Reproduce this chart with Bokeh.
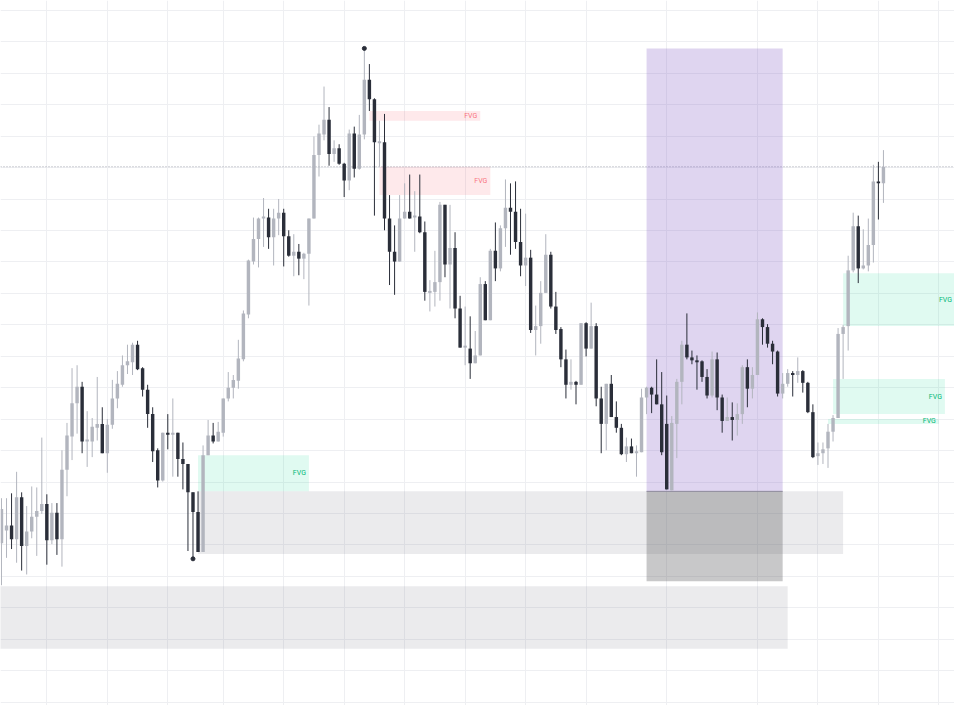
from bokeh.plotting import figure
from bokeh.models import Range1d, FixedTicker, Span, ColumnDataSource
from bokeh.embed import file_html
from bokeh.resources import INLINE
from bokeh.core.properties import value

# ---- candle data (price units) ----
opens = [245, 258, 263, 249, 292, 242, 257, 272, 278, 285, 248, 276, 249, 320, 354, 388, 405, 349, 349, 363,
         367, 337, 366, 393, 407, 427, 430, 448, 424, 402, 377, 340, 309, 358, 356, 358, 331, 326, 297, 277,
         236, 335, 355, 349, 358, 393, 404, 411, 433, 479, 533, 556, 577, 578, 558, 577, 583, 559, 539, 543,
         536, 541, 577, 642, 663, 678, 643, 649, 633, 616, 664, 628, 663, 719, 699, 654, 655, 577, 543, 533,
         577, 584, 578, 579, 563, 501, 502, 512, 591, 530, 547, 485, 445, 444, 429, 437, 510, 473, 544, 526,
         567, 588, 584, 553, 529, 537, 463, 467, 501, 540, 487, 464, 433, 407, 410, 407, 470, 444, 467, 393,
         367, 408, 374, 363, 336, 344, 337, 338, 394, 404, 397, 387, 367, 299, 367, 410, 448, 435, 432, 431,
         415, 396, 433, 394, 370, 374, 371, 377, 425, 403, 417, 474, 466, 449, 441, 398, 408, 419, 417, 421,
         409, 379, 334, 337, 342, 359, 373, 459, 467, 524, 569, 526, 529, 550, 615, 613]
highs = [291, 291, 296, 318, 297, 283, 303, 302, 353, 295, 286, 286, 340, 368, 424, 427, 410, 380, 373, 415,
         384, 372, 412, 421, 437, 448, 450, 452, 425, 407, 384, 342, 358, 377, 393, 358, 348, 326, 297, 298,
         345, 371, 368, 369, 393, 420, 417, 453, 483, 535, 578, 578, 598, 587, 587, 597, 587, 565, 561, 551,
         542, 577, 661, 673, 712, 691, 657, 653, 634, 668, 671, 683, 751, 735, 700, 677, 684, 601, 570, 601,
         613, 622, 605, 622, 574, 514, 544, 594, 591, 591, 563, 498, 487, 477, 462, 517, 513, 546, 573, 570,
         617, 613, 615, 587, 582, 545, 488, 513, 561, 543, 502, 466, 443, 433, 411, 470, 471, 491, 470, 405,
         408, 417, 390, 367, 353, 352, 345, 403, 405, 405, 433, 420, 396, 375, 413, 452, 480, 442, 437, 432,
         423, 441, 440, 397, 394, 389, 388, 427, 433, 425, 481, 475, 469, 452, 442, 419, 423, 421, 435, 422,
         410, 387, 348, 348, 367, 376, 465, 468, 539, 583, 580, 566, 577, 632, 635, 647]
lows = [202, 230, 239, 225, 217, 213, 250, 232, 275, 223, 244, 233, 221, 293, 330, 357, 337, 323, 333, 350,
        337, 317, 362, 383, 405, 418, 417, 422, 395, 363, 328, 302, 308, 341, 313, 313, 300, 237, 229, 236,
        236, 335, 347, 349, 354, 390, 393, 403, 431, 475, 530, 527, 548, 546, 529, 560, 528, 538, 518, 519,
        515, 488, 577, 620, 657, 631, 635, 632, 599, 606, 619, 627, 658, 687, 580, 630, 565, 509, 499, 533,
        577, 577, 543, 562, 493, 482, 487, 493, 517, 485, 475, 445, 427, 413, 429, 437, 473, 473, 513, 523,
        548, 540, 546, 518, 508, 460, 437, 449, 501, 485, 459, 425, 393, 402, 387, 407, 436, 444, 385, 337,
        340, 374, 358, 335, 328, 337, 313, 338, 377, 378, 387, 335, 300, 299, 332, 387, 433, 428, 402, 410,
        393, 394, 381, 358, 370, 350, 355, 367, 384, 393, 417, 448, 445, 428, 395, 393, 405, 395, 409, 399,
        378, 332, 325, 326, 322, 349, 373, 413, 442, 522, 511, 525, 523, 532, 576, 593]
closes = [280, 263, 249, 292, 242, 257, 272, 278, 285, 248, 276, 249, 320, 355, 388, 405, 349, 351, 364, 367,
          337, 366, 393, 408, 427, 431, 448, 423, 402, 377, 339, 309, 358, 356, 358, 331, 326, 297, 277, 236,
          335, 355, 349, 359, 393, 404, 412, 434, 480, 534, 556, 577, 579, 558, 577, 583, 559, 539, 543, 536,
          541, 577, 642, 664, 678, 643, 649, 633, 616, 664, 628, 663, 719, 699, 655, 656, 577, 543, 533, 577,
          584, 577, 580, 563, 502, 503, 512, 591, 530, 547, 485, 445, 447, 429, 437, 510, 473, 544, 526, 567,
          588, 584, 553, 529, 537, 463, 467, 501, 540, 487, 463, 433, 407, 410, 407, 470, 444, 467, 393, 367,
          408, 374, 363, 336, 344, 337, 339, 394, 404, 397, 387, 338, 300, 368, 410, 448, 435, 432, 430, 415,
          396, 433, 394, 370, 374, 371, 377, 425, 403, 417, 474, 466, 449, 441, 398, 408, 419, 417, 421, 409,
          379, 333, 337, 341, 359, 373, 459, 466, 524, 569, 526, 529, 550, 615, 613, 630]

# ---- zones (bar index / price) ----
bear_fvg_left = [73, 75]
bear_fvg_right = [95, 97]
bear_fvg_bottom = [677, 601]
bear_fvg_top = [687, 630]

bull_fvg_left = [39, 167, 165, 164]
bull_fvg_right = [61, 189.2, 187.2, 186]
bull_fvg_bottom = [298, 467, 377, 367]
bull_fvg_top = [335, 521, 413, 372]

ob_left = [39, -5]
ob_right = [167, 156]
ob_bottom = [234, 137]
ob_top = [298, 201]

range_left = [128]
range_right = [155]
range_top = [751]
range_mid = [298]
range_bottom = [206]

swing_high_bar = [72]
swing_low_bar = [38]

x_grid = [9, 21, 33, 44, 56, 68, 80, 92, 104, 116, 132, 150, 162, 174, 186]
y_grid = [82.5, 114.65, 146.8, 178.95, 211.1, 243.25, 275.4, 307.55, 339.7, 371.85, 404.0, 436.15,
          468.3, 500.45, 532.6, 564.75, 596.9, 629.05, 661.2, 693.35, 725.5, 757.65, 789.8]

UP = "#b2b5be"
DOWN = "#2a2e39"

p = figure(width=954, height=705, output_backend="svg", toolbar_location=None,
           x_range=Range1d(-0.195, 189.1), y_range=Range1d(79, 800),
           x_axis_location=None, y_axis_location=None, min_border=0,
           outline_line_color=None, background_fill_color="white", border_fill_color="white")
p.xgrid.ticker = FixedTicker(ticks=x_grid)
p.ygrid.ticker = FixedTicker(ticks=y_grid)
p.xgrid.grid_line_color = "#eeeff2"
p.ygrid.grid_line_color = "#eeeff2"

# zones
p.quad(left=ob_left, right=ob_right, bottom=ob_bottom, top=ob_top,
       fill_color="#787b86", fill_alpha=0.15, line_color=None)
p.quad(left=range_left, right=range_right, bottom=range_mid, top=range_top,
       fill_color="#7e57c2", fill_alpha=0.25, line_color=None)
p.quad(left=range_left, right=range_right, bottom=range_bottom, top=range_mid,
       fill_color="#626264", fill_alpha=0.35, line_color=None)
p.segment(x0=range_left, x1=range_right, y0=range_mid, y1=range_mid,
          line_color="#8e8a9c", line_width=1)
p.quad(left=bear_fvg_left, right=bear_fvg_right, bottom=bear_fvg_bottom, top=bear_fvg_top,
       fill_color="#f23645", fill_alpha=0.11, line_color=None)
p.quad(left=bull_fvg_left, right=bull_fvg_right, bottom=bull_fvg_bottom, top=bull_fvg_top,
       fill_color="#00d68a", fill_alpha=0.12, line_color=None)

# last price line
p.add_layout(Span(location=closes[-1], dimension="width", line_color="#a3a6af",
                  line_dash="1 2", line_width=1, level="underlay"))

# candles
idx = list(range(len(opens)))
colors = [UP if c >= o else DOWN for o, c in zip(opens, closes)]
src = ColumnDataSource(dict(x=idx, o=opens, h=highs, l=lows, c=closes,
                            top=[max(o, c) for o, c in zip(opens, closes)],
                            bot=[min(o, c) for o, c in zip(opens, closes)],
                            col=colors))
p.segment(x0="x", x1="x", y0="h", y1="l", line_color="col", line_width=1, source=src)
p.vbar(x="x", width=0.68, top="top", bottom="bot", fill_color="col", line_color=None, source=src)

# swing markers
p.scatter(x=swing_high_bar, y=[highs[i] for i in swing_high_bar], size=4, color=DOWN)
p.scatter(x=swing_low_bar, y=[lows[i] for i in swing_low_bar], size=4, color=DOWN)

# labels
lab_font = value("Roboto")
p.text(x=bear_fvg_right, y=[(b + t) / 2 for b, t in zip(bear_fvg_bottom, bear_fvg_top)],
       text=["FVG"] * len(bear_fvg_right), text_font=lab_font, text_font_size="7px",
       text_color="#f7525f", text_alpha=0.8, text_align="right", text_baseline="middle", x_offset=-3)
p.text(x=bull_fvg_right,
       y=[(b + t) / 2 for b, t in zip(bull_fvg_bottom, bull_fvg_top)],
       text=["FVG"] * len(bull_fvg_right), text_font=lab_font, text_font_size="7px",
       text_color="#00b877", text_align="right", text_baseline="middle", x_offset=-3)

open("out.html", "w").write(file_html(p, INLINE))
